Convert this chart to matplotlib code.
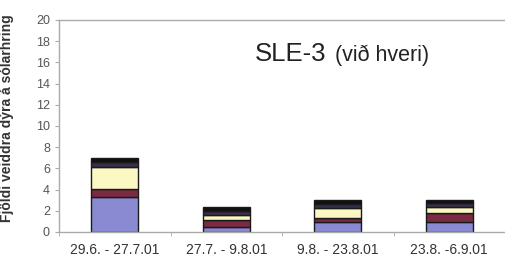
import matplotlib.pyplot as plt
import numpy as np

# Tímabil (x-ás)
periods = ['29.6. - 27.7.01', '27.7. - 9.8.01', '9.8. - 23.8.01', '23.8. -6.9.01']

# Stafla: neðst -> efst
blue = [3.3, 0.5, 0.9, 0.95]
maroon = [0.8, 0.6, 0.4, 0.85]
yellow = [2.0, 0.5, 1.0, 0.6]
purple = [0.5, 0.4, 0.35, 0.3]
black = [0.4, 0.4, 0.35, 0.3]

series = [blue, maroon, yellow, purple, black]
colors = ['#8a8ad2', '#7b2a44', '#fbf8c4', '#3a2f4a', '#111111']

plt.rcParams['font.family'] = ['Liberation Sans', 'DejaVu Sans']

fig = plt.figure(figsize=(5.05, 2.62), dpi=100)
ax = fig.add_axes([59 / 505, 30 / 262, 446 / 505, 212 / 262])

x = np.arange(len(periods))
bottom = np.zeros(len(periods))
for vals, col in zip(series, colors):
    ax.bar(x, vals, bottom=bottom, width=0.42, color=col,
           edgecolor='#1a1a1a', linewidth=1.0)
    bottom += np.array(vals)

ax.set_xlim(-0.5, 3.5)
ax.set_ylim(0, 20)
ax.set_yticks(range(0, 21, 2))
ax.set_xticks(x)
ax.set_xticklabels(periods, fontsize=10, color='#333333')
ax.set_xticks(np.arange(-0.5, 4.0, 1.0), minor=True)
ax.tick_params(axis='x', which='major', length=0, pad=8)
ax.tick_params(axis='x', which='minor', length=3, color='#aaaaaa')
ax.tick_params(axis='y', labelsize=9, labelcolor='#555555', length=3,
               color='#aaaaaa')

for side in ['left', 'bottom', 'top']:
    ax.spines[side].set_color('#aaaaaa')
    ax.spines[side].set_linewidth(1.0)
ax.spines['right'].set_visible(False)

ax.set_ylabel('Fjöldi veiddra dýra á sólarhring', fontsize=10,
              fontweight='bold', color='#333333')
ax.yaxis.set_label_coords(-0.1, 0.535)

ax.text(0.44, 0.84, 'SLE-3', transform=ax.transAxes, fontsize=18.5,
        color='#222222', va='center', ha='left')
ax.text(0.619, 0.835, '(við hveri)', transform=ax.transAxes, fontsize=15.5,
        color='#222222', va='center', ha='left')

fig.savefig('out.png', dpi=100)
